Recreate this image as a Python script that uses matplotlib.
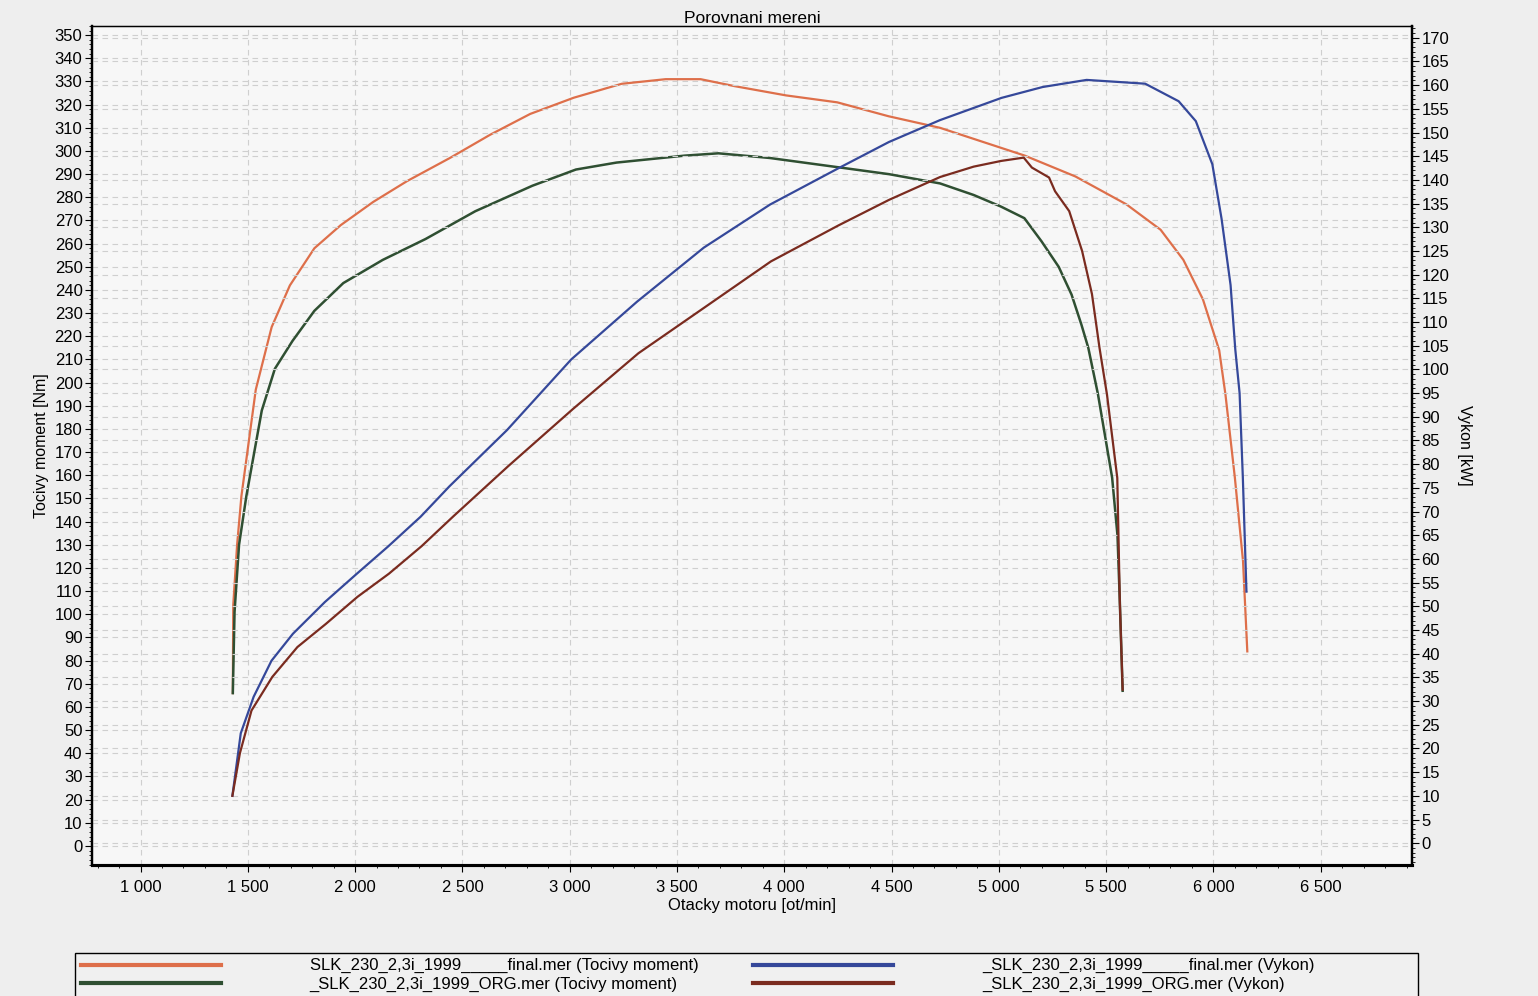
import matplotlib
matplotlib.use("Agg")
import matplotlib.pyplot as plt
from matplotlib.patches import Rectangle
from matplotlib.ticker import MultipleLocator, FuncFormatter

plt.rcParams["font.family"] = ["Liberation Sans", "DejaVu Sans"]

# torque curves [Nm]
rpm_final_torque = [1430, 1432, 1450, 1470, 1537, 1611, 1696, 1810, 1933, 2084, 2242, 2442,
                    2629, 2816, 3019, 3242, 3447, 3610, 3768, 4008, 4247, 4486, 4726, 5121,
                    5357, 5594, 5754, 5860, 5951, 6027, 6056, 6100, 6138, 6158]
torque_final = [66, 104, 130, 151, 197, 224, 242, 258, 268, 278, 287, 297,
                307, 316, 323, 329, 331, 331, 328, 324, 321, 315, 310, 298,
                289, 277, 266, 253, 236, 214, 195, 159, 123, 84]

rpm_org_torque = [1430, 1438, 1459, 1493, 1565, 1626, 1708, 1810, 1945, 2129, 2328, 2560,
                  2826, 3029, 3218, 3536, 3693, 3931, 4250, 4488, 4726, 4883, 5010, 5119,
                  5199, 5279, 5339, 5385, 5417, 5462, 5528, 5553, 5564, 5577]
torque_org = [66, 101, 130, 151, 188, 206, 218, 231, 243, 253, 262, 274,
              285, 292, 295, 298, 299, 297, 293, 290, 286, 281, 276, 271,
              261, 250, 238, 225, 215, 195, 159, 134, 105, 67]

# power curves [kW]
rpm_final_power = [1428, 1467, 1527, 1610, 1710, 1859, 2006, 2153, 2305, 2439, 2708, 3007,
                   3314, 3625, 3934, 4250, 4488, 4725, 5012, 5204, 5409, 5682, 5838, 5918,
                   5995, 6038, 6080, 6102, 6122, 6137, 6154]
power_final = [10.0, 23.2, 30.9, 38.5, 44.2, 50.9, 56.8, 62.6, 68.9, 75.3, 87.2, 102.1,
               114.3, 125.7, 134.8, 142.4, 148.0, 152.6, 157.3, 159.6, 161.1, 160.3, 156.6, 152.4,
               143.3, 131.8, 117.8, 104.2, 95.0, 77.4, 53.1]

rpm_org_power = [1428, 1463, 1517, 1614, 1731, 1864, 2011, 2158, 2310, 2458, 2714, 3014,
                 3320, 3677, 3938, 4253, 4489, 4726, 4883, 5011, 5116, 5154, 5234, 5262,
                 5328, 5388, 5434, 5469, 5504, 5552, 5564, 5577]
power_org = [10.0, 19.0, 28.0, 35.1, 41.4, 46.3, 52.0, 56.9, 62.7, 69.0, 79.6, 91.6,
             103.4, 114.6, 122.8, 130.4, 135.8, 140.6, 142.8, 144.0, 144.7, 142.6, 140.5, 137.6,
             133.4, 125.0, 115.9, 104.6, 94.7, 77.1, 50.7, 32.4]

labels = ["SLK_230_2,3i_1999_____final.mer (Tocivy moment)",
          "_SLK_230_2,3i_1999_ORG.mer (Tocivy moment)",
          "_SLK_230_2,3i_1999_____final.mer (Vykon)",
          "_SLK_230_2,3i_1999_ORG.mer (Vykon)"]
colors = ["#de6f4a", "#2f4f32", "#35489a", "#7a2b1f"]

fig = plt.figure(figsize=(15.38, 9.96), dpi=100, facecolor="#eeeeee")
ax = fig.add_axes([0.060, 0.132, 0.858, 0.842])
ax.set_facecolor("#f7f7f7")
ax2 = ax.twinx()

grid_kw = dict(color="#cfcfcf", linestyle=(0, (5, 4)), linewidth=0.8)
ax.grid(True, which="major", **grid_kw)
ax2.yaxis.grid(True, which="major", **grid_kw)
ax.set_axisbelow(True)
ax2.set_axisbelow(True)

l1, = ax.plot(rpm_final_torque, torque_final, color=colors[0], lw=1.6)
l2, = ax.plot(rpm_org_torque, torque_org, color=colors[1], lw=1.8)
l3, = ax2.plot(rpm_final_power, power_final, color=colors[2], lw=1.6)
l4, = ax2.plot(rpm_org_power, power_org, color=colors[3], lw=1.6)

ax.set_xlim(775, 6925)
ax.set_ylim(-8, 354)
ax2.set_ylim(-4.5, 172.5)

ax.xaxis.set_major_locator(MultipleLocator(500))
ax.xaxis.set_minor_locator(MultipleLocator(100))
ax.xaxis.set_major_formatter(FuncFormatter(lambda v, p: f"{int(v):,}".replace(",", " ")))
ax.yaxis.set_major_locator(MultipleLocator(10))
ax.yaxis.set_minor_locator(MultipleLocator(2))
ax2.yaxis.set_major_locator(MultipleLocator(5))
ax2.yaxis.set_minor_locator(MultipleLocator(1))

ax.tick_params(axis="both", which="major", labelsize=12, length=5, pad=2)
ax.tick_params(axis="both", which="minor", length=2.5)
ax2.tick_params(axis="y", which="major", labelsize=12, length=5, pad=2)
ax2.tick_params(axis="y", which="minor", length=2.5)
ax.tick_params(axis="x", pad=6)

for side in ["left", "right"]:
    ax.spines[side].set_linewidth(1.6)
    ax2.spines[side].set_linewidth(1.6)
ax.spines["bottom"].set_linewidth(2.2)
ax2.spines["bottom"].set_linewidth(2.2)
ax.spines["top"].set_linewidth(1.0)

ax.set_title("Porovnani mereni", fontsize=12.5, pad=2)
ax.set_xlabel("Otacky motoru [ot/min]", fontsize=12, labelpad=2)
ax.set_ylabel("Tocivy moment [Nm]", fontsize=11.5, labelpad=4)
ax2.set_ylabel("Vykon [kW]", fontsize=11.5, rotation=270, labelpad=16)

# legend box at the bottom, cut by the page edge
fig.patches.append(Rectangle((75 / 1538, -0.02), (1418 - 75) / 1538, 0.02 + (996 - 953) / 996,
                             transform=fig.transFigure, facecolor="#f0f0f0",
                             edgecolor="black", linewidth=1.0, zorder=0))
leg = fig.legend([l1, l2, l3, l4], labels, ncol=2, loc="upper left",
                 bbox_to_anchor=(78 / 1538, 1 - 955 / 996), borderaxespad=0,
                 fontsize=12, handlelength=8.4, handletextpad=5.3, columnspacing=3.3,
                 labelspacing=0.18, borderpad=0.2, frameon=False)
for line in leg.get_lines():
    line.set_linewidth(3)

fig.savefig("out.png", dpi=100, facecolor=fig.get_facecolor())
